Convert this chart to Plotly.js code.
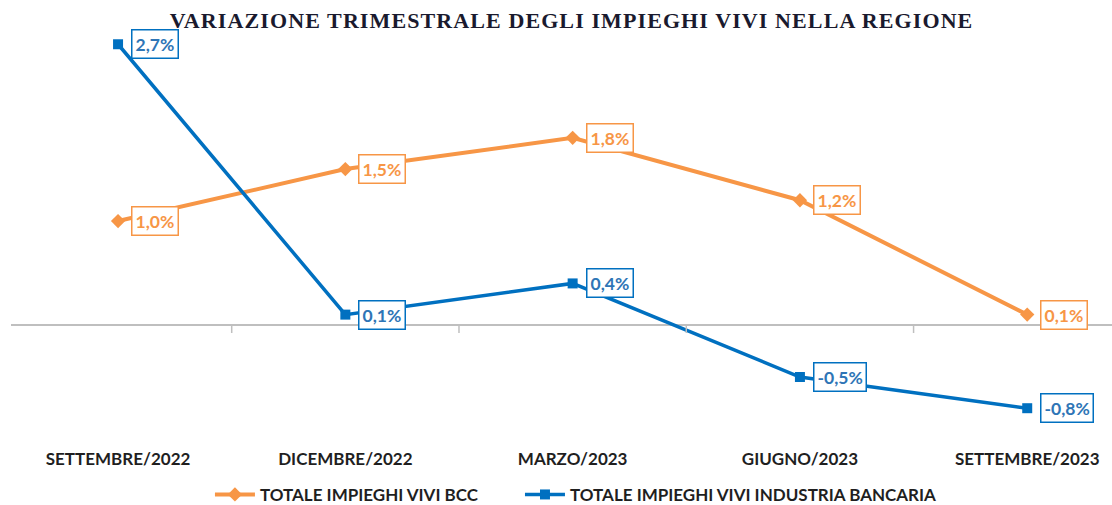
<!DOCTYPE html>
<html>
<head>
<meta charset="utf-8">
<script src="https://cdn.plot.ly/plotly-3.0.1.min.js"></script>
<style>html,body{margin:0;padding:0;background:#fff;}#chart{width:1112px;height:505px;}
#chart .gtitle{letter-spacing:1.1px;}</style>
</head>
<body>
<div id="chart"></div>
<script>
var categories = ["SETTEMBRE/2022", "DICEMBRE/2022", "MARZO/2023", "GIUGNO/2023", "SETTEMBRE/2023"];
var bccValues = [1.0, 1.5, 1.8, 1.2, 0.1];
var industriaValues = [2.7, 0.1, 0.4, -0.5, -0.8];
var seriesNames = ["TOTALE IMPIEGHI VIVI BCC", "TOTALE IMPIEGHI VIVI INDUSTRIA BANCARIA"];
var chartTitle = "VARIAZIONE TRIMESTRALE DEGLI IMPIEGHI VIVI NELLA REGIONE";

var orange = "#F79646";
var blue = "#0070C0";
var xIdx = categories.map(function (c, i) { return i; });

function fmt(v) { return v.toFixed(1).replace(".", ",") + "%"; }

var traces = [
  {
    x: xIdx, y: bccValues, name: seriesNames[0], type: "scatter", mode: "lines+markers",
    line: { color: orange, width: 4 },
    marker: { symbol: "diamond", size: 11, color: orange },
    legend: "legend"
  },
  {
    x: xIdx, y: industriaValues, name: seriesNames[1], type: "scatter", mode: "lines+markers",
    line: { color: blue, width: 3.5 },
    marker: { symbol: "square", size: 10, color: blue },
    legend: "legend2"
  }
];

var annotations = [];
[[bccValues, orange, "#F79646"], [industriaValues, blue, "#2E75B6"]].forEach(function (s) {
  s[0].forEach(function (v, i) {
    annotations.push({
      x: i, y: v, xref: "x", yref: "y", text: fmt(v), showarrow: false,
      xanchor: "left", yanchor: "middle", xshift: 13,
      font: { family: "Lato, 'Noto Sans', sans-serif", size: 17.5, color: s[2], weight: 700 },
      bgcolor: "#ffffff", bordercolor: s[1], borderwidth: 1.5, borderpad: 3
    });
  });
});

var shapes = [0.5, 1.5, 2.5, 3.5].map(function (b) {
  return {
    type: "line", xref: "x", yref: "y", ysizemode: "pixel", yanchor: 0,
    x0: b, x1: b, y0: 0, y1: -8, line: { color: "#bfbfbf", width: 1.5 }
  };
});

var legendFont = { family: "Lato, 'Noto Sans', sans-serif", size: 17, color: "#1f1f1f", weight: 700 };

var layout = {
  width: 1112, height: 505,
  margin: { l: 11, r: 0, t: 30, b: 58, autoexpand: false },
  paper_bgcolor: "#ffffff", plot_bgcolor: "#ffffff",
  title: {
    text: "<b>" + chartTitle + "</b>", x: 0.514, xref: "container", xanchor: "center",
    y: 0.96, yref: "container", yanchor: "middle",
    font: { family: "'Liberation Serif', 'DejaVu Serif', serif", size: 22, color: "#1a1a2e" }
  },
  xaxis: {
    range: [-0.471, 4.373], tickmode: "array", tickvals: xIdx, ticktext: categories,
    showgrid: false, zeroline: false, showline: false, ticks: "", automargin: false,
    tickfont: { family: "Lato, 'Noto Sans', sans-serif", size: 17, color: "#1f1f1f", weight: 700 },
    fixedrange: true
  },
  yaxis: {
    range: [-1.173, 2.837], showgrid: false, showticklabels: false, ticks: "", automargin: false,
    zeroline: true, zerolinecolor: "#bfbfbf", zerolinewidth: 1.5, showline: false, fixedrange: true
  },
  showlegend: true,
  legend: {
    orientation: "h", x: 0.1888, xref: "container", xanchor: "left",
    y: 0.02, yref: "container", yanchor: "middle",
    font: legendFont, itemwidth: 40
  },
  legend2: {
    orientation: "h", x: 0.4676, xref: "container", xanchor: "left",
    y: 0.02, yref: "container", yanchor: "middle",
    font: legendFont, itemwidth: 40
  },
  annotations: annotations,
  shapes: shapes
};

Plotly.newPlot("chart", traces, layout, { displayModeBar: false, staticPlot: true });
</script>
</body>
</html>
